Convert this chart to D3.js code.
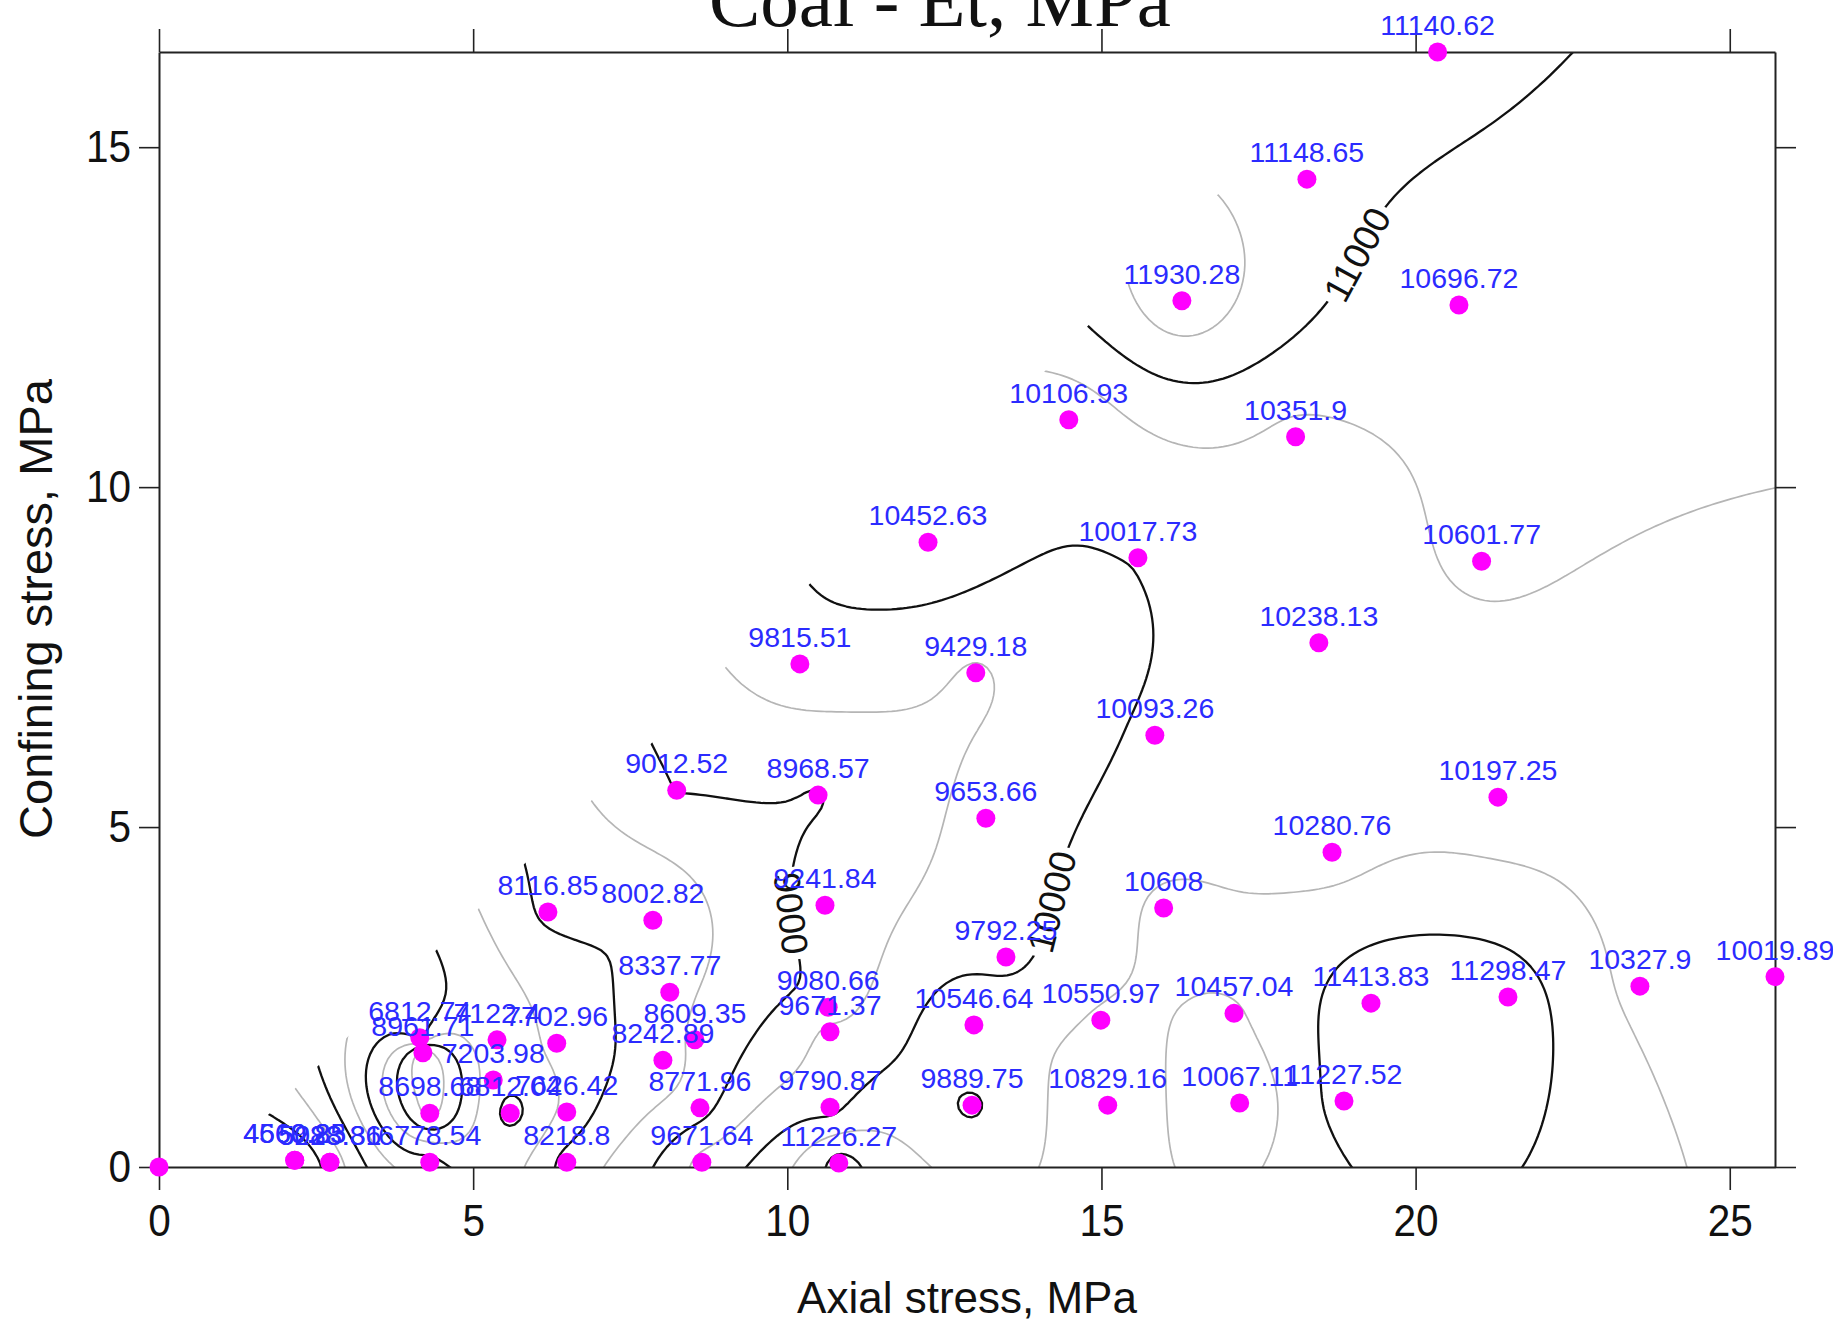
<!DOCTYPE html>
<html>
<head>
<meta charset="utf-8">
<script src="https://cdn.jsdelivr.net/npm/d3@7"></script>
<style>
  html, body { margin: 0; padding: 0; background: #fff; }
  svg { display: block; }
</style>
</head>
<body>
<svg id="chart" width="1833" height="1323"></svg>
<script>
// test points: axial stress, confining stress (MPa) and tangent modulus Et (MPa)
const axialStress = [
  0, 2.16, 2.16, 2.72, 2.72, 4.31, 4.31, 4.20, 4.15, 5.32,
  5.38, 5.59, 6.33, 6.49, 6.49, 6.19, 7.86, 8.13, 8.53, 8.02,
  8.61, 8.64, 8.24, 10.49, 10.60, 10.65, 10.68, 10.68, 10.82, 10.20,
  13.00, 12.24, 13.16, 13.48, 12.97, 12.94, 14.99, 15.10, 15.99, 15.85,
  15.58, 14.48, 16.28, 18.27, 20.35, 20.69, 18.09, 21.05, 18.46, 21.31,
  18.67, 17.11, 17.20, 18.86, 19.29, 21.47, 23.57, 25.72
];
const confiningStress = [
  0, 0.10, 0.10, 0.07, 0.07, 0.07, 0.79, 1.68, 1.90, 1.28,
  1.87, 0.79, 1.82, 0.81, 0.07, 3.75, 3.63, 2.57, 1.87, 1.57,
  0.87, 0.07, 5.54, 5.47, 3.85, 2.35, 1.99, 0.88, 0.06, 7.40,
  7.27, 9.19, 5.13, 3.09, 2.09, 0.91, 2.16, 0.91, 3.81, 6.35,
  8.96, 10.99, 12.74, 14.53, 16.40, 12.68, 10.74, 8.91, 7.71, 5.44,
  4.63, 2.26, 0.94, 0.97, 2.41, 2.50, 2.66, 2.80
];
const modulusEt = [
  null, 4560.85, 4669.23, 5028.31, 5283.86, 6778.54, 8698.68, 8961.71, 6812.74, 7203.98,
  7122.40, 6812.04, 7702.96, 7626.42, 8218.8, 8116.85, 8002.82, 8337.77, 8609.35, 8242.89,
  8771.96, 9671.64, 9012.52, 8968.57, 9241.84, 9080.66, 9671.37, 9790.87, 11226.27, 9815.51,
  9429.18, 10452.63, 9653.66, 9792.25, 10546.64, 9889.75, 10550.97, 10829.16, 10608, 10093.26,
  10017.73, 10106.93, 11930.28, 11148.65, 11140.62, 10696.72, 10351.9, 10601.77, 10238.13, 10197.25,
  10280.76, 10457.04, 10067.11, 11227.52, 11413.83, 11298.47, 10327.9, 10019.89
];

const xTicks = [0, 5, 10, 15, 20, 25];
const yTicks = [0, 5, 10, 15];
const contourLevels = d3.range(4500, 12001, 500);
const labelledLevels = [9000, 10000, 11000];
const labelSpots = [[10.04, 3.71], [14.08, 3.92], [19.05, 13.45]];
const xMax = 25.72, yMax = 16.4;

const svg = d3.select("#chart");
const sx = d3.scaleLinear().domain([0, xMax]).range([159, 1775]);
const sy = d3.scaleLinear().domain([0, yMax]).range([1167, 52]);

// --- gridding: ordinary kriging with a linear variogram (exact interpolator) ---
const known = d3.rollups(
  d3.range(axialStress.length).filter(i => modulusEt[i] != null),
  ids => ({ x: axialStress[ids[0]], y: confiningStress[ids[0]], v: d3.mean(ids, i => modulusEt[i]) }),
  i => axialStress[i] + "," + confiningStress[i]
).map(d => d[1]);

function solve(A, b) {
  const n = b.length;
  for (let c = 0; c < n; c++) {
    let p = c;
    for (let r = c + 1; r < n; r++) if (Math.abs(A[r][c]) > Math.abs(A[p][c])) p = r;
    [A[c], A[p]] = [A[p], A[c]];
    [b[c], b[p]] = [b[p], b[c]];
    for (let r = c + 1; r < n; r++) {
      const f = A[r][c] / A[c][c];
      if (!f) continue;
      for (let k = c; k < n; k++) A[r][k] -= f * A[c][k];
      b[r] -= f * b[c];
    }
  }
  const out = new Array(n).fill(0);
  for (let r = n - 1; r >= 0; r--) {
    let s = b[r];
    for (let k = r + 1; k < n; k++) s -= A[r][k] * out[k];
    out[r] = s / A[r][r];
  }
  return out;
}

const n = known.length;
const A = [], b = [];
for (let i = 0; i < n; i++) {
  A.push(known.map(q => Math.hypot(known[i].x - q.x, known[i].y - q.y)).concat([1]));
  b.push(known[i].v);
}
A.push(new Array(n).fill(1).concat([0]));
b.push(0);
const w = solve(A, b);

const step = 0.08, gx0 = -0.5, gy0 = -0.5;
const nx = Math.ceil((xMax + 1) / step) + 1;
const ny = Math.ceil((yMax + 1) / step) + 1;
const grid = new Float64Array(nx * ny);
for (let j = 0; j < ny; j++) {
  const py = gy0 + j * step;
  for (let i = 0; i < nx; i++) {
    const px = gx0 + i * step;
    let s = w[n];
    for (let k = 0; k < n; k++) s += w[k] * Math.hypot(px - known[k].x, py - known[k].y);
    grid[j * nx + i] = s;
  }
}

const contours = d3.contours().size([nx, ny]).thresholds(contourLevels)(grid);
const toPix = p => [sx(gx0 + (p[0] - 0.5) * step), sy(gy0 + (p[1] - 0.5) * step)];
const path = d3.geoPath(d3.geoTransform({
  point(x, y) { const p = toPix([x, y]); this.stream.point(p[0], p[1]); }
}));

// blank the empty upper-left: frontier of the data (nothing further left and higher), pushed outwards
const order = d3.range(axialStress.length).sort((a, c) => axialStress[a] - axialStress[c]);
const frontier = [];
let topY = -Infinity;
order.forEach(i => {
  if (confiningStress[i] > topY) { frontier.push([axialStress[i], confiningStress[i]]); topY = confiningStress[i]; }
});
const blank = [[-1, -1]]
  .concat(frontier.map(p => [p[0] - 0.5, p[1] + 0.6]))
  .concat([[xMax + 1, topY + 1], [xMax + 1, -1]]);

const defs = svg.append("defs");
defs.append("clipPath").attr("id", "plotClip")
  .append("rect")
  .attr("x", sx(0)).attr("y", sy(yMax))
  .attr("width", sx(xMax) - sx(0)).attr("height", sy(0) - sy(yMax));
defs.append("clipPath").attr("id", "dataClip")
  .append("polygon")
  .attr("points", blank.map(p => [sx(p[0]), sy(p[1])].join(",")).join(" "));

const lines = svg.append("g").attr("clip-path", "url(#plotClip)")
  .append("g").attr("clip-path", "url(#dataClip)");

lines.selectAll("path")
  .data(contours)
  .join("path")
  .attr("d", path)
  .attr("fill", "none")
  .attr("stroke", d => d.value % 1000 === 0 ? "#111" : "#b5b5b5")
  .attr("stroke-width", d => d.value % 1000 === 0 ? 2.3 : 1.7)
  .attr("stroke-linejoin", "round");

// contour labels, set into a gap along the line
labelledLevels.forEach((lvl, k) => {
  const c = contours.find(d => d.value === lvl);
  const target = [sx(labelSpots[k][0]), sy(labelSpots[k][1])];
  let best = null;
  c.coordinates.forEach(poly => poly.forEach(ring => {
    const pix = ring.map(toPix);
    pix.forEach((p, i) => {
      const d = Math.hypot(p[0] - target[0], p[1] - target[1]);
      if (!best || d < best.d) best = { d, pix, i };
    });
  }));
  if (!best) return;
  const p0 = best.pix[Math.max(0, best.i - 3)];
  const p1 = best.pix[Math.min(best.pix.length - 1, best.i + 3)];
  let ang = Math.atan2(p1[1] - p0[1], p1[0] - p0[0]) * 180 / Math.PI;
  if (ang > 90) ang -= 180;
  if (ang <= -90) ang += 180;
  const at = best.pix[best.i];
  const g = svg.append("g").attr("transform", `translate(${at[0]},${at[1]}) rotate(${ang})`);
  const t = g.append("text")
    .attr("text-anchor", "middle").attr("dy", "0.35em")
    .attr("font-family", "Liberation Sans, Arial, sans-serif")
    .attr("font-size", 37).attr("fill", "#111")
    .text(String(lvl));
  const tw = t.node().getComputedTextLength();
  g.insert("rect", "text")
    .attr("x", -tw / 2 - 5).attr("y", -14)
    .attr("width", tw + 10).attr("height", 28)
    .attr("fill", "#fff");
});

// axes: ticks outward on all four sides
function styleAxis(g) {
  g.select(".domain").attr("stroke", "#222").attr("stroke-width", 2);
  g.selectAll(".tick line").attr("stroke", "#222").attr("stroke-width", 1.6);
  g.selectAll(".tick text")
    .attr("font-family", "Liberation Sans, Arial, sans-serif")
    .attr("font-size", 45).attr("fill", "#111");
}
function squeeze(sel, k) {
  sel.each(function() {
    const tw = this.getComputedTextLength();
    this.setAttribute("textLength", tw * k);
    this.setAttribute("lengthAdjust", "spacingAndGlyphs");
  });
}

svg.append("g").attr("transform", `translate(0,${sy(0)})`)
  .call(d3.axisBottom(sx).tickValues(xTicks).tickFormat(d3.format("d")).tickSize(23).tickSizeOuter(0).tickPadding(14))
  .call(styleAxis)
  .call(g => squeeze(g.selectAll(".tick text"), 0.9));
svg.append("g").attr("transform", `translate(0,${sy(yMax)})`)
  .call(d3.axisTop(sx).tickValues(xTicks).tickFormat("").tickSize(23).tickSizeOuter(0))
  .call(styleAxis);
svg.append("g").attr("transform", `translate(${sx(0)},0)`)
  .call(d3.axisLeft(sy).tickValues(yTicks).tickFormat(d3.format("d")).tickSize(20).tickSizeOuter(0).tickPadding(8))
  .call(styleAxis)
  .call(g => squeeze(g.selectAll(".tick text"), 0.9));
svg.append("g").attr("transform", `translate(${sx(xMax)},0)`)
  .call(d3.axisRight(sy).tickValues(yTicks).tickFormat("").tickSize(21).tickSizeOuter(0))
  .call(styleAxis);

// data points and their values
svg.append("g").selectAll("circle")
  .data(d3.range(axialStress.length))
  .join("circle")
  .attr("cx", i => sx(axialStress[i]))
  .attr("cy", i => sy(confiningStress[i]))
  .attr("r", 9.5)
  .attr("fill", "#ff00ff");

svg.append("g").selectAll("text")
  .data(d3.range(axialStress.length).filter(i => modulusEt[i] != null))
  .join("text")
  .attr("x", i => sx(axialStress[i]))
  .attr("y", i => sy(confiningStress[i]) - 17)
  .attr("text-anchor", "middle")
  .attr("font-family", "Liberation Sans, Arial, sans-serif")
  .attr("font-size", 28.5)
  .attr("fill", "#2b2bff")
  .text(i => String(modulusEt[i]));

// titles
svg.append("text")
  .attr("x", 940).attr("y", 26)
  .attr("text-anchor", "middle")
  .attr("font-family", "Liberation Serif, Times New Roman, serif")
  .attr("font-size", 77).attr("fill", "#111")
  .text("Coal - Et, MPa");

svg.append("text")
  .attr("x", (sx(0) + sx(xMax)) / 2).attr("y", 1313)
  .attr("text-anchor", "middle")
  .attr("font-family", "Liberation Sans, Arial, sans-serif")
  .attr("font-size", 44).attr("fill", "#111")
  .text("Axial stress, MPa");

svg.append("text")
  .attr("transform", "translate(52,609) rotate(-90)")
  .attr("text-anchor", "middle")
  .attr("font-family", "Liberation Sans, Arial, sans-serif")
  .attr("font-size", 47).attr("fill", "#111")
  .text("Confining stress, MPa");
</script>
</body>
</html>
